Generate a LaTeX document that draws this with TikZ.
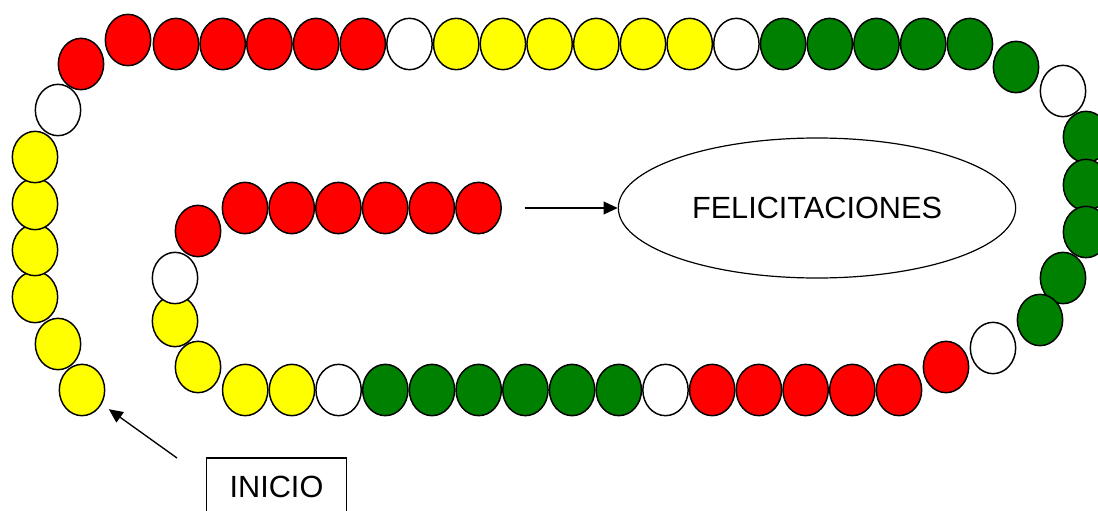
\documentclass[tikz,border=0pt]{standalone}
\usepackage{fontspec}
\setmainfont{Liberation Sans}
\usetikzlibrary{shapes.geometric,arrows.meta}
\definecolor{beadred}{RGB}{255,0,0}
\definecolor{beadyellow}{RGB}{255,255,0}
\definecolor{beadgreen}{RGB}{0,128,0}

\begin{document}
\begin{tikzpicture}[x=0.75pt, y=-0.75pt,
    bead/.style={draw, line width=1.1pt, ellipse, minimum width=34pt, minimum height=38.5pt, inner sep=0pt},
    bigtext/.style={font=\fontsize{23}{27}\selectfont},
    arrow/.style={line width=1pt, -{Triangle[length=10.5pt, width=9.5pt]}}]
    \useasboundingbox (0,0) rectangle (1098,510);

    % Outer lane, left side going up from the start
    \foreach \x/\y/\c [count=\i] in {82/390/beadyellow, 58/344/beadyellow, 35/297/beadyellow, 35/250/beadyellow, 35/204/beadyellow, 35/157/beadyellow, 58/110/white, 81/64/beadred, 128/40/beadred}
        \node[bead, fill=\c] (left\i) at (\x,\y) {};

    % Top row
    \foreach \c [count=\i from 0] in {beadred,beadred,beadred,beadred,beadred,white,beadyellow,beadyellow,beadyellow,beadyellow,beadyellow,beadyellow,white,beadgreen,beadgreen,beadgreen,beadgreen,beadgreen}
        \node[bead, fill=\c] (top\i) at (176+46.7*\i,44) {};

    % Right bend
    \foreach \x/\y/\c [count=\i] in {1016/67/beadgreen, 1063/91/white, 1086/137/beadgreen, 1086/185/beadgreen, 1086/232/beadgreen, 1063/278/beadgreen, 1040/320/beadgreen, 993/348/white, 946/367/beadred}
        \node[bead, fill=\c] (right\i) at (\x,\y) {};

    % Bottom row, right to left
    \foreach \c [count=\i from 0] in {beadred,beadred,beadred,beadred,beadred,white,beadgreen,beadgreen,beadgreen,beadgreen,beadgreen,beadgreen,white,beadyellow,beadyellow}
        \node[bead, fill=\c] (bot\i) at (899-46.7*\i,390) {};

    % Inner bend
    \foreach \x/\y/\c [count=\i] in {198/367/beadyellow, 175/321/beadyellow, 175/278/white, 198/231/beadred}
        \node[bead, fill=\c] (inner\i) at (\x,\y) {};

    % Last stretch
    \foreach \i in {0,...,5}
        \node[bead, fill=beadred] (last\i) at (245+46.7*\i,208) {};

    % Goal and start
    \node[draw, ellipse, line width=0.9pt, minimum width=298pt, minimum height=105pt, bigtext] (felic) at (817,208) {FELICITACIONES};
    \node[draw, line width=1pt, minimum width=105pt, minimum height=43.5pt, bigtext] (inicio) at (276.5,487) {INICIO};
    \coordinate (inicioTail) at (177,458);

    % Arrows
    \draw[arrow, shorten >=6.5pt] (inicioTail) -- (left1);
    \draw[arrow, shorten <=17pt] (last5.east) -- (felic.west);
\end{tikzpicture}
\end{document}
